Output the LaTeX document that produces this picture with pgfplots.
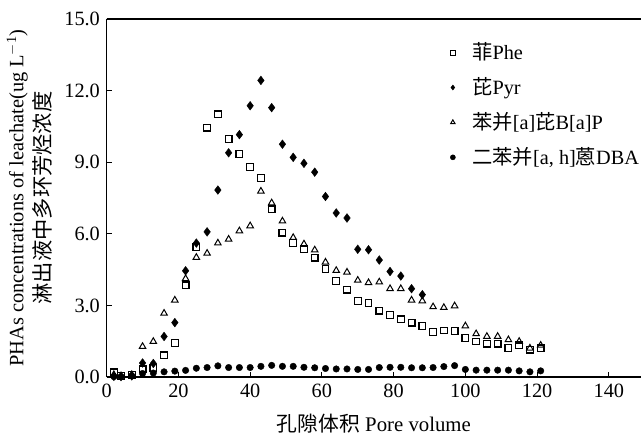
\documentclass[border=0pt]{standalone}
\usepackage{pgfplots}
\pgfplotsset{compat=1.18}
\usepackage{fontspec}
\setmainfont{Liberation Serif}
\newfontfamily\cjk{Noto Sans CJK SC}
\begin{document}
\fontsize{20}{24}\selectfont
\begin{tikzpicture}
\begin{axis}[
  scale only axis,
  width=540pt, height=362pt,
  xmin=0, xmax=149, ymin=0, ymax=15,
  axis x line*=bottom, axis y line*=left,
  axis line style={line width=1.6pt},
  tick align=inside,
  major tick length=5pt,
  tick style={line width=1.2pt, black},
  xtick={0,20,...,140},
  ytick={0,3,...,15},
  yticklabel style={/pgf/number format/fixed,/pgf/number format/fixed zerofill,/pgf/number format/precision=1},
  /pgf/number format/assume math mode=true,
  ticklabel style={font=\fontsize{20.5}{23}\selectfont},
  xlabel={{\cjk 孔隙体积} Pore volume},
  ylabel={PHAs concentrations of leachate(ug L\textsuperscript{$-$1})\\{\cjk\fontsize{21.5}{27}\selectfont 淋出液中多环芳烃浓度}},
  ylabel style={align=center, font=\fontsize{20.6}{27}\selectfont, yshift=-1pt},
  xlabel style={font=\fontsize{21}{24}\selectfont, yshift=-3pt},
  legend style={draw=none, fill=none, at={(0.637,0.945)}, anchor=north west, row sep=11pt, column sep=15pt, font=\fontsize{20.5}{24}\selectfont},
  legend cell align=left,
  legend image post style={mark size=2.6pt},
  clip=false,
]
\addplot[only marks, mark=square, mark size=3.4pt, mark options={line width=1.2pt, black, fill=white}] coordinates {
(2,0.2)(4,0.05)(7,0.08)(10,0.32)(13,0.39)(16,0.91)(19,1.42)(22,3.84)(25,5.45)(28,10.44)
(31,11.0)(34,9.97)(37,9.35)(40,8.80)(43,8.34)(46,7.02)(49,6.05)(52,5.62)(55,5.35)(58,5.0)
(61,4.53)(64,4.02)(67,3.66)(70,3.18)(73,3.10)(76,2.78)(79,2.61)(82,2.42)(85,2.28)(88,2.13)
(91,1.89)(94,1.95)(97,1.92)(100,1.64)(103,1.49)(106,1.40)(109,1.40)(112,1.21)(115,1.33)(118,1.15)(121,1.2)};
\addlegendentry{{\cjk 菲}Phe}
\addplot[only marks, mark=diamond*, mark size=4.4pt, mark options={black, fill=black}] coordinates {
(2,0.03)(4,0.02)(7,0.05)(10,0.59)(13,0.57)(16,1.70)(19,2.28)(22,4.45)(25,5.61)(28,6.08)
(31,7.83)(34,9.39)(37,10.15)(40,11.36)(43,12.42)(46,11.28)(49,9.75)(52,9.20)(55,8.95)(58,8.58)
(61,7.56)(64,6.87)(67,6.66)(70,5.35)(73,5.33)(76,4.90)(79,4.42)(82,4.23)(85,3.70)(88,3.45)};
\addlegendentry{{\cjk 芘}Pyr}
\addplot[only marks, mark=triangle, mark size=3.8pt, mark options={line width=1pt, black, fill=white}] coordinates {
(2,0.1)(4,0.05)(7,0.1)(10,1.28)(13,1.49)(16,2.67)(19,3.22)(22,4.12)(25,5.01)(28,5.18)
(31,5.61)(34,5.77)(37,6.12)(40,6.33)(43,7.78)(46,7.29)(49,6.53)(52,5.84)(55,5.57)(58,5.32)
(61,4.81)(64,4.46)(67,4.39)(70,4.05)(73,3.95)(76,3.98)(79,3.70)(82,3.70)(85,3.22)(88,3.19)
(91,2.94)(94,2.91)(97,2.98)(100,2.14)(103,1.81)(106,1.70)(109,1.70)(112,1.56)(115,1.49)(118,1.21)(121,1.33)};
\addlegendentry{{\cjk 苯并}[a]{\cjk 芘}B[a]P}
\addplot[only marks, mark=*, mark size=3.3pt, mark options={black, fill=black}] coordinates {
(2,0.02)(4,0.02)(7,0.05)(10,0.15)(13,0.17)(16,0.22)(19,0.25)(22,0.28)(25,0.37)(28,0.40)
(31,0.47)(34,0.40)(37,0.40)(40,0.40)(43,0.45)(46,0.49)(49,0.45)(52,0.45)(55,0.41)(58,0.39)
(61,0.36)(64,0.34)(67,0.34)(70,0.32)(73,0.32)(76,0.40)(79,0.41)(82,0.41)(85,0.39)(88,0.39)
(91,0.40)(94,0.44)(97,0.48)(100,0.32)(103,0.29)(106,0.29)(109,0.29)(112,0.29)(115,0.26)(118,0.22)(121,0.26)};
\addlegendentry{{\cjk 二苯并}[a, h]{\cjk 蒽}DBA}
\draw[line width=1.6pt] (rel axis cs:0,1) -- (rel axis cs:1,1);
\path (rel axis cs:0,1) -- ++(0,19pt);
\end{axis}
\end{tikzpicture}
\end{document}
